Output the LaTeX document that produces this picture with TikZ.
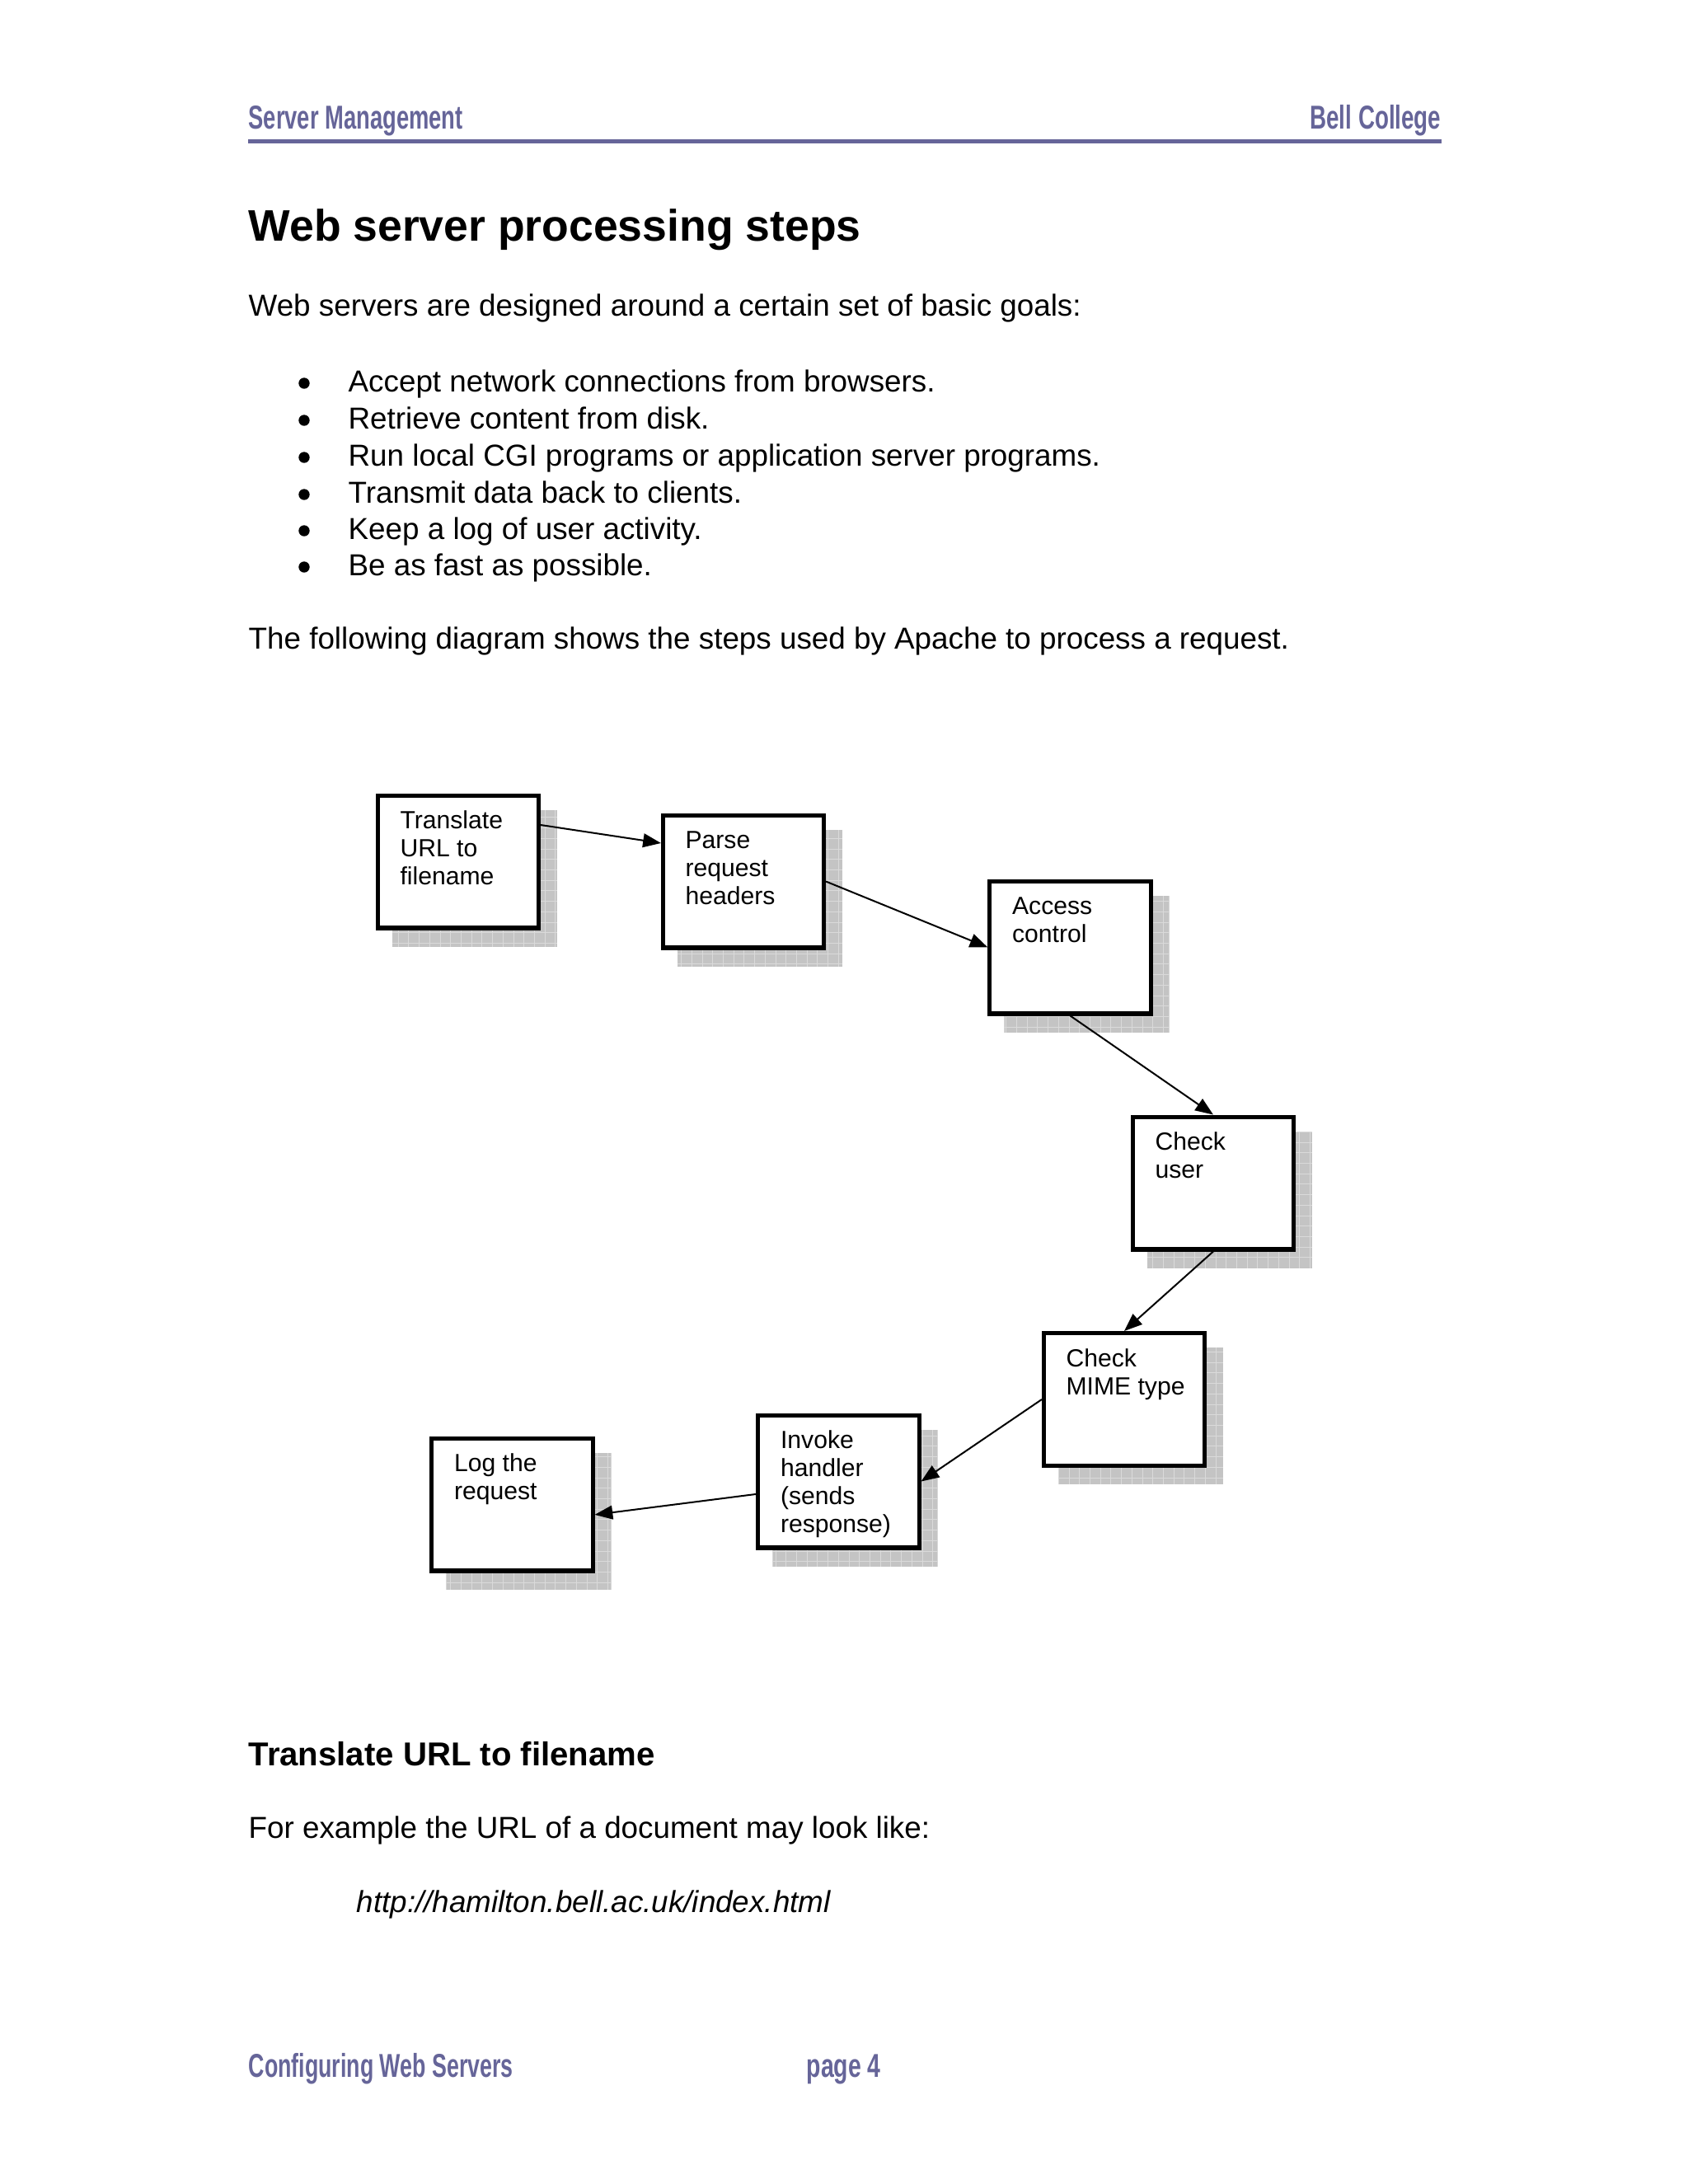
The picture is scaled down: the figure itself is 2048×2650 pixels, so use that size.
\documentclass[tikz,border=0pt]{standalone}
\usepackage{fontspec}
\setmainfont{Liberation Sans}
\usetikzlibrary{arrows.meta,calc,backgrounds}
\definecolor{hdrcol}{RGB}{102,101,153}
\definecolor{shfill}{RGB}{196,196,196}
\definecolor{shgrid}{RGB}{218,218,218}
\begin{document}
\begin{tikzpicture}[x=0.29883pt,y=-0.29883pt,
  stepbox/.style={draw, line width=1.5pt, fill=white, minimum width=58.3pt, minimum height=48.1pt, inner sep=0pt},
  boxtext/.style={anchor=base west, inner sep=0pt, font=\fontsize{9}{10.16}\selectfont},
  conn/.style={line width=0.6pt, -{Triangle[length=6.5pt,width=5pt]}},
  body/.style={anchor=base west, inner sep=0pt, font=\fontsize{11}{13}\selectfont},
  bul/.style={circle, fill=black, inner sep=0pt, minimum size=4pt},
  hdrtext/.style={anchor=base west, inner sep=0pt, text=hdrcol, font=\fontsize{12}{14}\selectfont\bfseries},
]
\useasboundingbox (0,0) rectangle (2048,2650);

% header
\node[hdrtext] (h1) at (301,156) {\resizebox{77.7pt}{\height}{Server Management}};
\node[hdrtext, anchor=base east] (h2) at (1749,156) {\resizebox{47.5pt}{\height}{Bell College}};
\coordinate (hl) at (301,171);
\coordinate (hr) at (1749,171);
\draw[hdrcol, line width=1.5pt] (hl) -- (hr);

% title and text
\node[anchor=base west, inner sep=0pt, font=\fontsize{16}{19}\selectfont\bfseries] (title) at (301,292) {Web server processing steps};
\node[body] (p1) at (301,383) {Web servers are designed around a certain set of basic goals:};
\node[bul] (bu1) at (369,465) {};
\node[bul] (bu2) at (369,510) {};
\node[bul] (bu3) at (369,555) {};
\node[bul] (bu4) at (369,600) {};
\node[bul] (bu5) at (369,644) {};
\node[bul] (bu6) at (369,688) {};
\node[body] (l1) at (422,475) {Accept network connections from browsers.};
\node[body] (l2) at (422,520) {Retrieve content from disk.};
\node[body] (l3) at (422,565) {Run local CGI programs or application server programs.};
\node[body] (l4) at (422,610) {Transmit data back to clients.};
\node[body] (l5) at (422,654) {Keep a log of user activity.};
\node[body] (l6) at (422,698) {Be as fast as possible.};
\node[body] (p2) at (301,787) {The following diagram shows the steps used by Apache to process a request.};

% boxes
\node[stepbox] (b1) at (556,1045.5) {};
\node[stepbox] (b2) at (902,1069.5) {};
\node[stepbox] (b3) at (1298.5,1149.5) {};
\node[stepbox] (b4) at (1472,1435.5) {};
\node[stepbox] (b5) at (1364,1698) {};
\node[stepbox] (b6) at (1017.5,1797.5) {};
\node[stepbox] (b7) at (621.5,1825.5) {};

\node[boxtext] (t1) at ($(b1.north west)+(29,43)$) {\parbox[t]{70pt}{Translate\\URL to\\filename}};
\node[boxtext] (t2) at ($(b2.north west)+(29,43)$) {\parbox[t]{70pt}{Parse\\request\\headers}};
\node[boxtext] (t3) at ($(b3.north west)+(29,43)$) {\parbox[t]{70pt}{Access\\control}};
\node[boxtext] (t4) at ($(b4.north west)+(29,43)$) {\parbox[t]{70pt}{Check\\user}};
\node[boxtext] (t5) at ($(b5.north west)+(29,43)$) {\parbox[t]{70pt}{Check\\MIME type}};
\node[boxtext] (t6) at ($(b6.north west)+(29,43)$) {\parbox[t]{70pt}{Invoke\\handler\\(sends\\response)}};
\node[boxtext] (t7) at ($(b7.north west)+(29,43)$) {\parbox[t]{70pt}{Log the\\request}};

% connectors
\draw[conn] ([yshift=13.3pt]b1.east) -- ([yshift=13.9pt]b2.west);
\draw[conn] (b2.east) -- (b3.west);
\draw[conn] (b3.south) -- (b4.north);
\draw[conn] (b4.south) -- (b5.north);
\draw[conn] (b5.west) -- (b6.east);
\draw[conn] ([yshift=-4.6pt]b6.west) -- ([yshift=-3.7pt]b7.east);

% shadows
\begin{pgfonlayer}{background}
\fill[white] (0,0) rectangle (2048,2650);
\foreach \bx in {b1,b2,b3,b4,b5,b6,b7} {
  \begin{scope}
  \clip ([shift={(20,20)}]\bx.north west) rectangle ([shift={(20,20)}]\bx.south east);
  \fill[shfill] ([shift={(20,20)}]\bx.north west) rectangle ([shift={(20,20)}]\bx.south east);
  \draw[shgrid, line width=0.3pt, step=3.8pt] ([shift={(20,20)}]\bx.north west) grid ([shift={(20,20)}]\bx.south east);
  \end{scope}
}
\end{pgfonlayer}

% lower text
\node[anchor=base west, inner sep=0pt, font=\fontsize{12}{14}\selectfont\bfseries] (sub) at (301,2142) {Translate URL to filename};
\node[body] (p3) at (301,2230) {For example the URL of a document may look like:};
\node[body, font=\fontsize{11}{13}\selectfont\itshape] (url) at (432,2320) {http://hamilton.bell.ac.uk/index.html};

% footer
\node[hdrtext] (f1) at (301,2520) {\resizebox{95.9pt}{\height}{Configuring Web Servers}};
\node[hdrtext] (f2) at (978,2520) {\resizebox{26.9pt}{\height}{page 4}};
\end{tikzpicture}
\end{document}
